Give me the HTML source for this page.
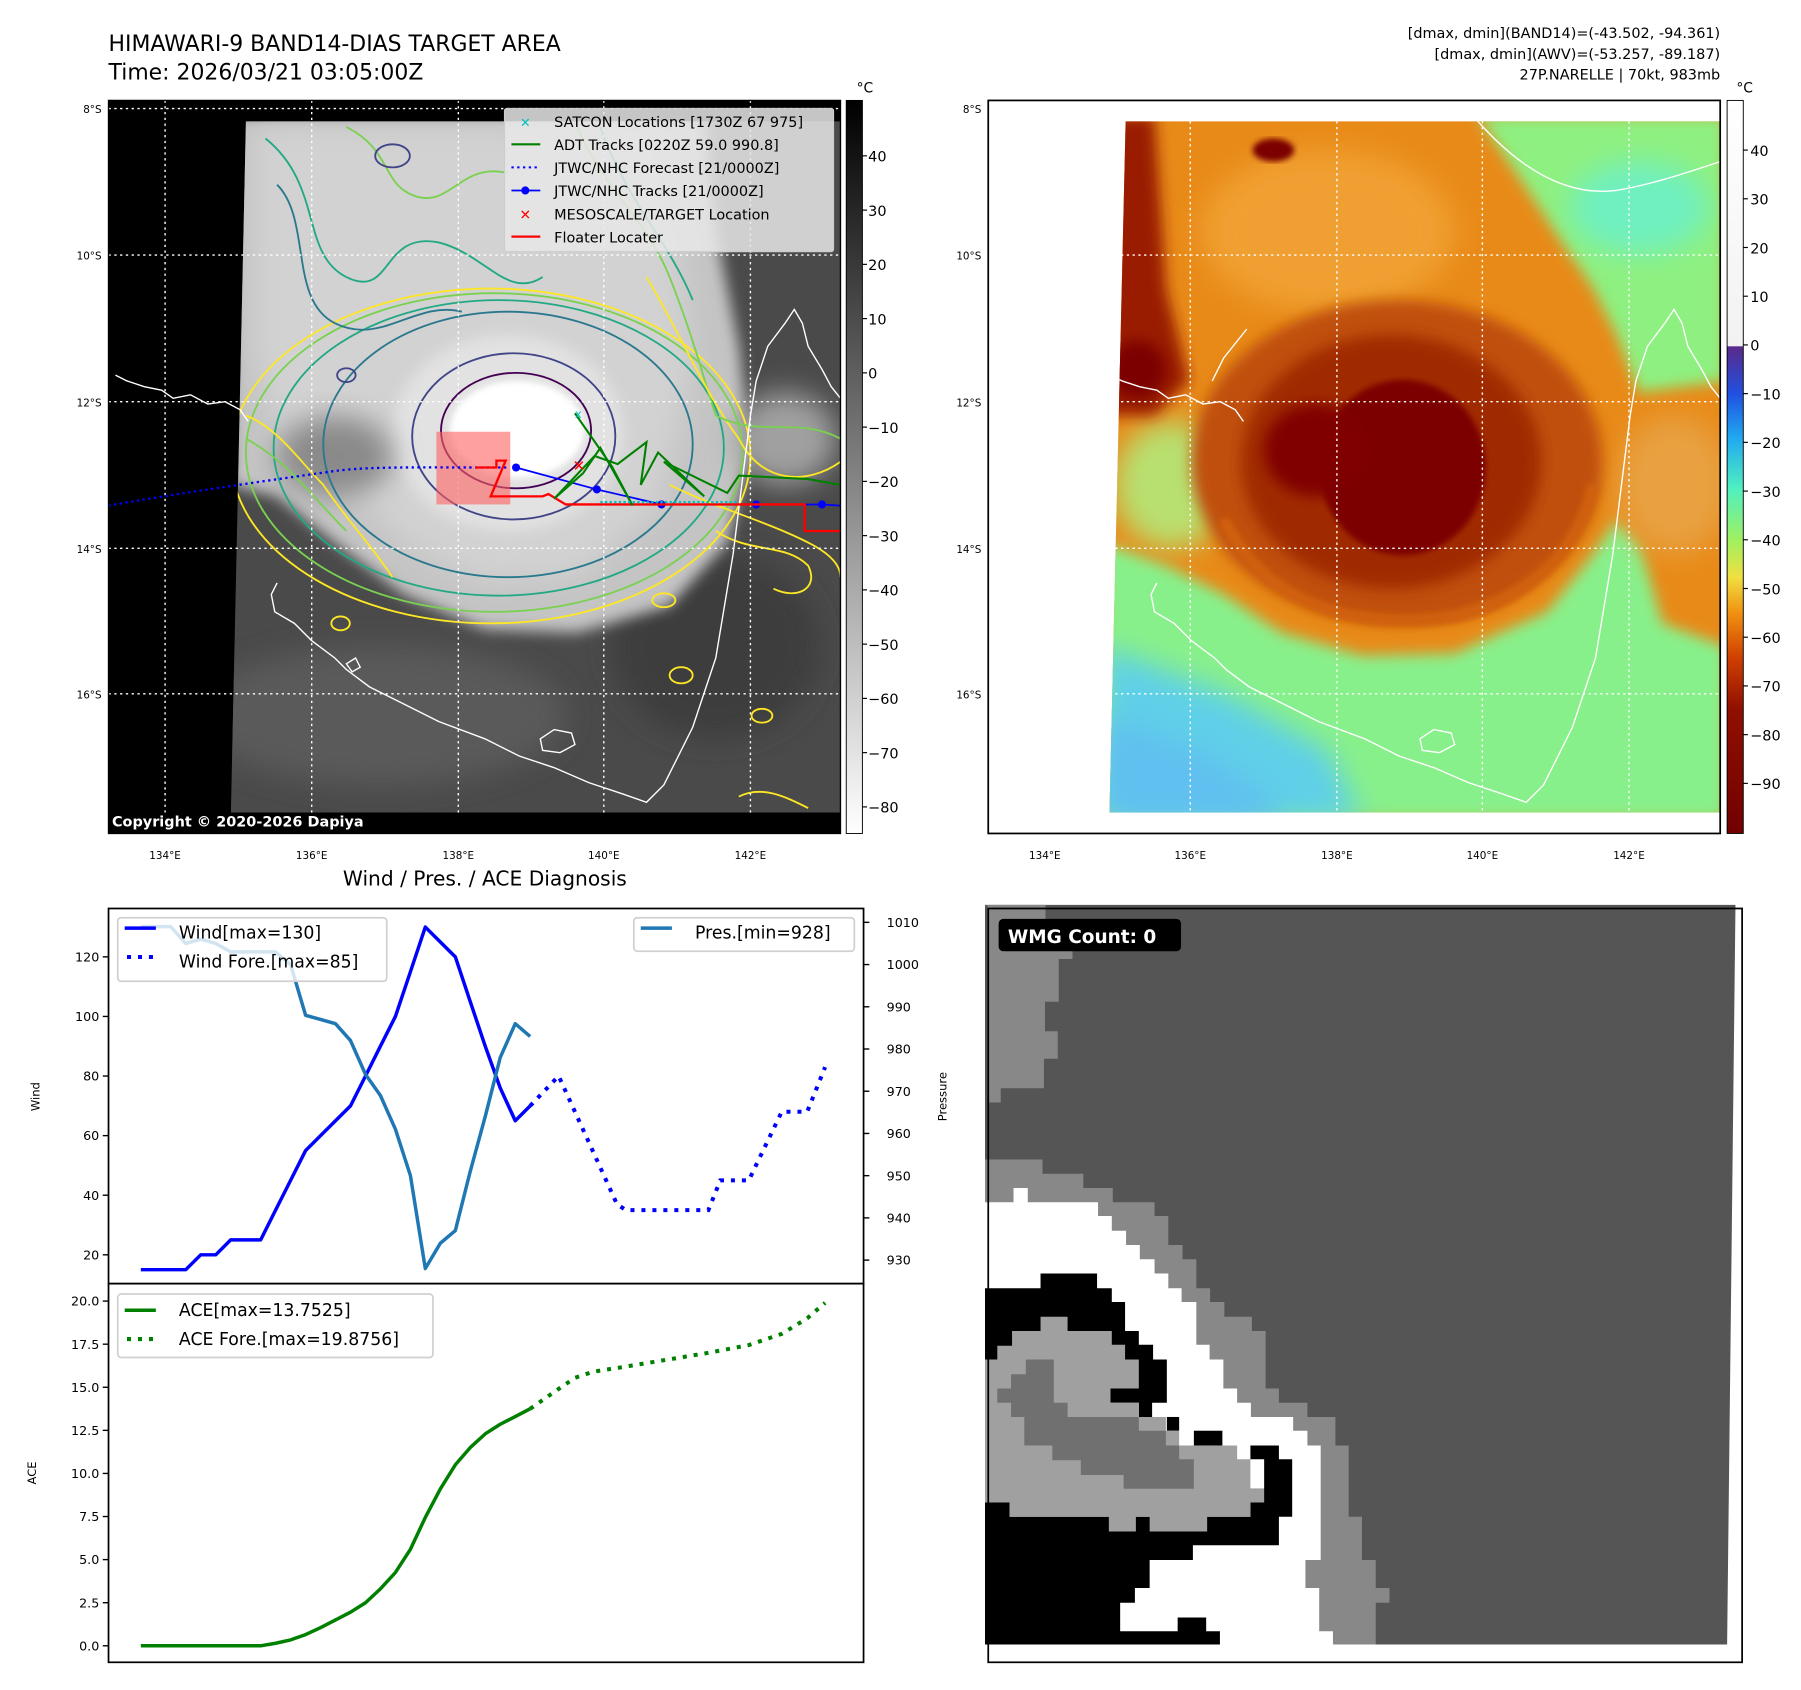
<!DOCTYPE html>
<html><head><meta charset="utf-8"><style>
html,body{margin:0;padding:0;background:#fff;}
svg{display:block;font-family:"DejaVu Sans","Liberation Sans",sans-serif;}
</style></head><body>
<svg id="root" width="1801" height="1690" viewBox="0 0 1560 1464" preserveAspectRatio="none" xmlns="http://www.w3.org/2000/svg">
<defs>
<filter id="blur6" x="-20%" y="-20%" width="140%" height="140%"><feGaussianBlur stdDeviation="6"/></filter>
<filter id="blur12" x="-30%" y="-30%" width="160%" height="160%"><feGaussianBlur stdDeviation="12"/></filter>
<filter id="blur3"><feGaussianBlur stdDeviation="2.5"/></filter>
<clipPath id="clipSat1"><polygon points="213,105 728,105 728,704 200,704"/></clipPath>
<clipPath id="clipAx1"><rect x="94" y="87" width="634" height="635"/></clipPath>
<clipPath id="clipSat2"><polygon points="975,105 1490,105 1490,704 961,704"/></clipPath>
<clipPath id="clipWind"><rect x="94" y="787" width="654" height="325"/></clipPath>
<linearGradient id="cb1" x1="0" y1="0" x2="0" y2="1"><stop offset="0" stop-color="#000"/><stop offset="1" stop-color="#fff"/></linearGradient>
<linearGradient id="cb2" x1="0" y1="87" x2="0" y2="722" gradientUnits="userSpaceOnUse">
<stop offset="0" stop-color="#ffffff"/>
<stop offset="0.335" stop-color="#f2f2f2"/>
<stop offset="0.336" stop-color="#5a2a8a"/>
<stop offset="0.40" stop-color="#2050e0"/>
<stop offset="0.46" stop-color="#20a8f0"/>
<stop offset="0.53" stop-color="#50f0c0"/>
<stop offset="0.60" stop-color="#a0f060"/>
<stop offset="0.65" stop-color="#f0e040"/>
<stop offset="0.70" stop-color="#f09010"/>
<stop offset="0.76" stop-color="#d04000"/>
<stop offset="0.83" stop-color="#901000"/>
<stop offset="1" stop-color="#700000"/>
</linearGradient>
</defs>

<text x="94" y="44" font-size="19">HIMAWARI-9 BAND14-DIAS TARGET AREA</text>
<text x="94" y="69" font-size="19">Time: 2026/03/21 03:05:00Z</text>
<g font-size="12.5" text-anchor="end">
<text x="1490" y="33">[dmax, dmin](BAND14)=(-43.502, -94.361)</text>
<text x="1490" y="51">[dmax, dmin](AWV)=(-53.257, -89.187)</text>
<text x="1490" y="69">27P.NARELLE | 70kt, 983mb</text>
</g>

<g>
<rect x="94" y="87" width="634" height="635" fill="#000"/>
<g clip-path="url(#clipSat1)">
<rect x="190" y="100" width="540" height="610" fill="#4a4a4a"/>
<ellipse cx="330" cy="620" rx="160" ry="60" fill="#5a5a5a" filter="url(#blur12)"/>
<ellipse cx="620" cy="560" rx="90" ry="80" fill="#3c3c3c" filter="url(#blur12)"/>
<path d="M200,100 L610,100 L620,200 L640,300 L650,390 L630,470 L580,525 L500,548 L420,545 L350,515 L290,470 L240,430 L200,420 Z" fill="#c4c4c4" filter="url(#blur6)"/>
<path d="M220,110 L560,110 L590,220 L600,320 L570,440 L500,500 L420,505 L350,470 L300,420 L240,380 L220,300 Z" fill="#d2d2d2" filter="url(#blur12)"/>
<ellipse cx="440" cy="375" rx="100" ry="85" fill="#e2e2e2" filter="url(#blur6)"/>
<ellipse cx="448" cy="372" rx="58" ry="42" fill="#fff" filter="url(#blur3)"/>
<ellipse cx="290" cy="395" rx="50" ry="35" fill="#8a8a8a" filter="url(#blur12)"/>
<ellipse cx="680" cy="380" rx="45" ry="40" fill="#a0a0a0" filter="url(#blur12)"/>
<g fill="none" stroke-width="1.6">
<ellipse cx="425" cy="395" rx="225" ry="145" stroke="#fde725"/>
<ellipse cx="428" cy="392" rx="215" ry="138" stroke="#7ad151"/>
<ellipse cx="432" cy="388" rx="195" ry="128" stroke="#22a884"/>
<ellipse cx="440" cy="385" rx="160" ry="115" stroke="#2a788e"/>
<ellipse cx="445" cy="378" rx="88" ry="72" stroke="#414487"/>
<ellipse cx="447" cy="373" rx="65" ry="50" stroke="#440154"/>
<path d="M230,120 C280,160 260,220 300,240 C340,260 330,200 380,210 C420,220 440,260 470,240" stroke="#22a884"/>
<path d="M240,160 C270,190 250,260 290,280 C330,300 360,260 400,270" stroke="#2a788e"/>
<path d="M300,110 C340,130 330,160 360,170 C390,180 400,140 440,150" stroke="#7ad151"/>
<path d="M500,110 C520,160 560,190 580,240 C600,290 610,330 620,360" stroke="#7ad151"/>
<path d="M520,110 C540,170 580,210 600,260" stroke="#22a884"/>
<path d="M560,240 C590,290 610,340 640,380 C660,420 700,420 728,400" stroke="#fde725"/>
<path d="M620,360 C660,380 690,360 728,380" stroke="#7ad151"/>
<path d="M213,360 C240,370 260,400 280,420 C300,450 320,470 340,500" stroke="#fde725"/>
<path d="M213,380 C250,400 270,430 300,460" stroke="#7ad151"/>
<path d="M580,420 C620,440 660,450 700,470 C720,480 728,490 728,500" stroke="#fde725"/>
<path d="M620,460 C650,480 680,470 700,490 C710,510 690,520 670,510" stroke="#fde725"/>
<path d="M640,690 C660,680 680,690 700,700" stroke="#fde725"/>
<ellipse cx="340" cy="135" rx="15" ry="10" stroke="#414487"/>
<ellipse cx="300" cy="325" rx="8" ry="6" stroke="#414487"/>
<ellipse cx="575" cy="520" rx="10" ry="6" stroke="#fde725"/>
<ellipse cx="590" cy="585" rx="10" ry="7" stroke="#fde725"/>
<ellipse cx="295" cy="540" rx="8" ry="6" stroke="#fde725"/>
<ellipse cx="660" cy="620" rx="9" ry="6" stroke="#fde725"/>
</g>
</g>
<g clip-path="url(#clipAx1)" fill="none" stroke="#fff" stroke-width="1.2">
<path d="M100,325 L110,330 L125,335 L140,338 L150,345 L165,342 L180,350 L195,348 L208,355 L215,365"/>
<path d="M240,505 L235,515 L238,530 L255,540 L270,555 L290,570 L300,580 L320,595 L350,610 L380,625 L420,640 L450,655 L480,665 L510,678 L540,688 L560,695 L575,680 L585,660 L600,630 L610,600 L620,570 L625,540 L630,510 L635,480 L640,440 L645,400 L650,360 L655,330 L665,300 L680,280 L688,268 L695,280 L700,300 L712,320 L720,335 L728,345"/>
<path d="M468,640 L480,632 L495,635 L498,645 L485,652 L470,650 Z"/>
<path d="M300,575 L305,582 L312,578 L308,570 Z"/>
</g>
<g stroke="#fff" stroke-width="1.2" stroke-dasharray="2 3">
<line x1="94" y1="94" x2="728" y2="94"/><line x1="94" y1="221" x2="728" y2="221"/><line x1="94" y1="348" x2="728" y2="348"/><line x1="94" y1="475" x2="728" y2="475"/><line x1="94" y1="601" x2="728" y2="601"/>
<line x1="143" y1="87" x2="143" y2="722"/><line x1="270" y1="87" x2="270" y2="722"/><line x1="397" y1="87" x2="397" y2="722"/><line x1="523" y1="87" x2="523" y2="722"/><line x1="650" y1="87" x2="650" y2="722"/>
</g>
<g clip-path="url(#clipAx1)">
<rect x="378" y="374" width="64" height="63" fill="#ff6060" opacity="0.6"/>
<path d="M94,438 C150,428 220,418 290,408 C320,404 360,405 440,405" fill="none" stroke="#0000ff" stroke-width="2" stroke-dasharray="2 3"/>
<polyline points="447,405 517,424 573,437 650,437 712,437 728,438" fill="none" stroke="#0000ff" stroke-width="1.5"/>
<g fill="#0000ff"><circle cx="447" cy="405" r="3.5"/><circle cx="517" cy="424" r="3.5"/><circle cx="573" cy="437" r="3.5"/><circle cx="655" cy="437" r="3.5"/><circle cx="712" cy="437" r="3.5"/></g>
<polyline points="412,405 430,405 430,399 438,399 425,430 470,430 475,428 490,437 697,437 697,460 728,460" fill="none" stroke="#ff0000" stroke-width="2"/>
<polyline points="498,358 530,404 548,438 520,388 505,410 480,432 515,395 535,402 560,383 555,420 570,392 610,430 575,400 630,427 640,412 700,415 728,420" fill="none" stroke="#008000" stroke-width="1.8"/>
<polyline points="520,435 640,435" fill="none" stroke="#00c0c0" stroke-width="2" stroke-dasharray="2 2"/>
<text x="498" y="362" fill="#00c0c0" font-size="10">x</text>
<text x="496" y="408" fill="#ff0000" font-size="13" font-weight="bold">✕</text>
</g>
<rect x="94" y="704" width="634" height="18" fill="#000"/>
<text x="97" y="716" fill="#fff" font-size="12.5" font-weight="bold">Copyright © 2020-2026 Dapiya</text>
<g>
<rect x="437" y="94" width="285" height="124" fill="#e8e8e8" fill-opacity="0.85" stroke="#ccc" rx="2"/>
<g font-size="12.5" fill="#000">
<text x="455" y="110" fill="#00c0c0" font-size="11" text-anchor="middle" font-weight="bold">✕</text><text x="480" y="110">SATCON Locations [1730Z 67 975]</text>
<line x1="443" y1="125" x2="468" y2="125" stroke="#008000" stroke-width="1.8"/><text x="480" y="130">ADT Tracks [0220Z 59.0 990.8]</text>
<line x1="443" y1="145" x2="468" y2="145" stroke="#0000ff" stroke-width="1.8" stroke-dasharray="2 3"/><text x="480" y="150">JTWC/NHC Forecast [21/0000Z]</text>
<line x1="443" y1="165" x2="468" y2="165" stroke="#0000ff" stroke-width="1.5"/><circle cx="455" cy="165" r="3.5" fill="#0000ff"/><text x="480" y="170">JTWC/NHC Tracks [21/0000Z]</text>
<text x="455" y="190" fill="#ff0000" font-size="12" text-anchor="middle" font-weight="bold">✕</text><text x="480" y="190">MESOSCALE/TARGET Location</text>
<line x1="443" y1="205" x2="468" y2="205" stroke="#ff0000" stroke-width="2"/><text x="480" y="210">Floater Locater</text>
</g></g>
<rect x="94" y="87" width="634" height="635" fill="none" stroke="#000" stroke-width="1.2"/>
</g>
<g font-size="9" text-anchor="end">
<text x="88" y="98">8°S</text><text x="88" y="225">10°S</text><text x="88" y="352">12°S</text><text x="88" y="479">14°S</text><text x="88" y="605">16°S</text>
</g>
<g font-size="9" text-anchor="middle">
<text x="143" y="744">134°E</text><text x="270" y="744">136°E</text><text x="397" y="744">138°E</text><text x="523" y="744">140°E</text><text x="650" y="744">142°E</text>
</g>
<g>
<rect x="733" y="87" width="14" height="635" fill="url(#cb1)" stroke="#000" stroke-width="0.8"/>
<text x="742" y="80" font-size="12">°C</text>
<g font-size="12.5" id="cb1ticks"></g>
</g>

<g>
<g clip-path="url(#clipSat2)">
<rect x="955" y="100" width="540" height="610" fill="#e88a18"/>
<path d="M1280,100 L1495,100 L1495,330 L1420,340 L1400,290 L1380,250 L1340,190 Z" fill="#8ef080" filter="url(#blur6)"/>
<path d="M955,470 L1010,490 L1060,515 L1110,548 L1180,568 L1260,566 L1340,530 L1380,480 L1400,450 L1420,470 L1440,540 L1495,560 L1495,710 L955,710 Z" fill="#88f08a" filter="url(#blur6)"/>
<path d="M955,560 L1060,600 L1150,650 L1180,710 L955,710 Z" fill="#5ed0e8" filter="url(#blur12)"/>
<path d="M955,620 L1040,650 L1100,690 L1110,710 L955,710 Z" fill="#60c0f0" filter="url(#blur12)"/>
<ellipse cx="1420" cy="180" rx="60" ry="40" fill="#70f0c0" filter="url(#blur12)"/>
<ellipse cx="1015" cy="420" rx="50" ry="55" fill="#b8e070" filter="url(#blur12)"/>
<ellipse cx="1450" cy="420" rx="50" ry="60" fill="#e8a040" filter="url(#blur12)"/>
<ellipse cx="1150" cy="200" rx="110" ry="70" fill="#f0a030" filter="url(#blur12)"/>
<ellipse cx="1210" cy="400" rx="178" ry="140" fill="#c05008" filter="url(#blur6)"/>
<path d="M1060,450 C1100,530 1180,545 1260,535 C1330,520 1370,470 1380,420" fill="none" stroke="#d06010" stroke-width="10" filter="url(#blur3)"/>
<ellipse cx="1205" cy="400" rx="130" ry="110" fill="#a02a00" filter="url(#blur6)"/>
<ellipse cx="1215" cy="405" rx="72" ry="76" fill="#7c0000" filter="url(#blur3)"/>
<ellipse cx="1140" cy="390" rx="45" ry="40" fill="#800000" filter="url(#blur6)"/>
<path d="M955,100 L1000,100 L1010,250 L1030,330 L1000,360 L955,360 Z" fill="#9a1a00" filter="url(#blur6)"/>
<ellipse cx="985" cy="320" rx="25" ry="25" fill="#7c0000" filter="url(#blur6)"/>
<ellipse cx="1103" cy="130" rx="18" ry="10" fill="#7c0000" filter="url(#blur3)"/>
</g>
<g clip-path="url(#clipSat2)" fill="none" stroke="#fff" stroke-width="1.2">
<path d="M962,325 L972,330 L987,335 L1002,338 L1012,345 L1027,342 L1042,350 L1057,348 L1070,355 L1077,365"/>
<path d="M1080,285 L1060,310 L1050,330"/>
<path d="M1002,505 L997,515 L1000,530 L1017,540 L1032,555 L1052,570 L1062,580 L1082,595 L1112,610 L1142,625 L1182,640 L1212,655 L1242,665 L1272,678 L1302,688 L1322,695 L1337,680 L1347,660 L1362,630 L1372,600 L1382,570 L1387,540 L1392,510 L1397,480 L1402,440 L1407,400 L1412,360 L1417,330 L1427,300 L1442,280 L1450,268 L1457,280 L1462,300 L1474,320 L1482,335 L1490,345"/>
<path d="M1230,640 L1242,632 L1257,635 L1260,645 L1247,652 L1232,650 Z"/>
<path d="M1280,105 C1320,150 1360,170 1400,165 C1430,160 1460,150 1490,140"/>
</g>
<g stroke="#fff" stroke-width="1.2" stroke-dasharray="2 3">
<line x1="961" y1="221" x2="1490" y2="221"/><line x1="961" y1="348" x2="1490" y2="348"/><line x1="961" y1="475" x2="1490" y2="475"/><line x1="961" y1="601" x2="1490" y2="601"/>
<line x1="1031" y1="105" x2="1031" y2="704"/><line x1="1158" y1="105" x2="1158" y2="704"/><line x1="1284" y1="105" x2="1284" y2="704"/><line x1="1411" y1="105" x2="1411" y2="704"/>
</g>
<rect x="856" y="87" width="634" height="635" fill="none" stroke="#000" stroke-width="1.5"/>
</g>
<g font-size="9" text-anchor="end">
<text x="850" y="98">8°S</text><text x="850" y="225">10°S</text><text x="850" y="352">12°S</text><text x="850" y="479">14°S</text><text x="850" y="605">16°S</text>
</g>
<g font-size="9" text-anchor="middle">
<text x="905" y="744">134°E</text><text x="1031" y="744">136°E</text><text x="1158" y="744">138°E</text><text x="1284" y="744">140°E</text><text x="1411" y="744">142°E</text>
</g>
<g>
<rect x="1496" y="87" width="14" height="635" fill="url(#cb2)" stroke="#000" stroke-width="0.8"/>
<text x="1504" y="80" font-size="12">°C</text>
<g font-size="12.5" id="cb2ticks"></g>
</g>

<text x="420" y="767" font-size="17.5" text-anchor="middle">Wind / Pres. / ACE Diagnosis</text>
<g id="windAx"></g>
<g id="aceAx"></g>

<g>
<g transform="translate(853.2,783.9) scale(0.4257)">
<polygon points="0,0 1527,0 1510,1505 0,1505" fill="#555"/>
<polygon points="5,0 123,0 123,90 178,90 178,110 150,110 150,197 122,197 122,257 148,257 148,313 120,313 120,373 32,373 32,402 5,402" fill="#888"/>
<polygon points="0,518 117,518 117,547 200,547 200,576 260,576 260,605 345,605 345,633 373,633 373,692 402,692 402,721 430,721 430,780 458,780 458,808 487,808 487,838 543,838 543,867 571,867 571,984 598,984 598,1013 656,1013 656,1042 713,1042 713,1100 740,1100 740,1245 767,1245 767,1333 795,1333 795,1390 823,1390 823,1420 795,1420 795,1505 0,1505" fill="#888"/>
<polygon points="0,605 58,605 58,576 87,576 87,605 230,605 230,633 258,633 258,663 287,663 287,692 315,692 315,721 345,721 345,750 373,750 373,780 400,780 400,808 430,808 430,895 457,895 457,925 485,925 485,984 513,984 513,1013 541,1013 541,1042 627,1042 627,1070 656,1070 656,1100 683,1100 683,1333 652,1333 652,1390 680,1390 680,1478 708,1478 708,1505 0,1505" fill="#fff"/>
<polygon points="0,780 113,780 113,750 228,750 228,780 258,780 258,808 285,808 285,867 313,867 313,895 342,895 342,925 370,925 370,1013 340,1013 340,1042 313,1042 313,1013 255,1013 255,984 0,984" fill="#000"/>
<polygon points="0,1216 50,1216 50,1245 540,1245 540,1188 568,1188 568,1128 540,1128 540,1100 598,1100 598,1128 625,1128 625,1245 598,1245 598,1303 423,1303 423,1333 335,1333 335,1390 305,1390 305,1420 275,1420 275,1478 392,1478 392,1450 450,1450 450,1478 478,1478 478,1505 0,1505" fill="#000"/>
<rect x="370" y="1042" width="25" height="28" fill="#000"/>
<rect x="425" y="1070" width="58" height="30" fill="#000"/>
<polygon points="0,925 25,925 25,897 55,897 55,867 113,867 113,838 168,838 168,867 258,867 258,895 285,895 285,925 313,925 313,984 255,984 255,1013 313,1013 313,1042 368,1042 368,1070 395,1070 395,1100 513,1100 513,1128 540,1128 540,1188 568,1188 568,1216 540,1216 540,1245 452,1245 452,1275 335,1275 335,1245 307,1245 307,1275 252,1275 252,1245 50,1245 50,1216 0,1216" fill="#a0a0a0"/>
<polygon points="83,925 140,925 140,1013 168,1013 168,1042 313,1042 313,1070 368,1070 368,1100 395,1100 395,1128 425,1128 425,1188 282,1188 282,1160 195,1160 195,1130 137,1130 137,1100 80,1100 80,1042 53,1042 53,1013 25,1013 25,984 53,984 53,955 83,955" fill="#707070"/>
</g>
<rect x="856" y="787" width="653" height="653" fill="none" stroke="#000" stroke-width="1.5"/>
<rect x="865" y="796" width="158" height="28" rx="4" fill="#000"/>
<text x="873" y="817" fill="#fff" font-size="16" font-weight="bold">WMG Count: 0</text>
</g>
</svg>

<script>
// ---- chart data ----
const windHistX = [0,1,2,3,4,5,6,7,8,9,10,11,12,13,14,15,16,17,18,19,20,21,22,23,24,25,26];
const windHist = [15,15,15,15,20,20,25,25,25,35,45,55,60,65,70,80,90,100,115,130,125,120,105,90,76,65,70];
const windForeX = [26,27.9,31.8,32.4,37.9,38.7,40.6,42.8,44.5,45.7];
const windFore = [70,80,37,35,35,45,45,68,68,83];
const presHist = [1009,1009,1009,1005,1006,1005,1003,1003,1003,1003,1000,988,987,986,982,974,969,961,950,928,934,937,951,964,978,986,983];
const aceHist = [0,0,0,0,0,0,0,0,0,0.15,0.34,0.65,1.05,1.5,1.95,2.5,3.3,4.25,5.6,7.45,9.1,10.5,11.5,12.3,12.85,13.3,13.75];
const aceForeX = [26,27.9,29.0,30.2,32.4,37.9,40.6,42.8,44.5,45.7];
const aceFore = [13.75,14.9,15.55,15.9,16.2,17.0,17.45,18.1,19.0,19.9];
const windTicks = [20,40,60,80,100,120];
const presTicks = [930,940,950,960,970,980,990,1000,1010];
const aceTicks = [0,2.5,5,7.5,10,12.5,15,17.5,20];
const cb1Ticks = [40,30,20,10,0,-10,-20,-30,-40,-50,-60,-70,-80];
const cb2Ticks = [40,30,20,10,0,-10,-20,-30,-40,-50,-60,-70,-80,-90];

const NS = "http://www.w3.org/2000/svg";
const xS = i => 122 + i * 12.97;
const yW = v => 1087 - (v - 20) * 2.581;
const yP = p => 1091.6 - (p - 930) * 3.6575;
const yA = a => 1425.7 - a * 14.93;
function mk(parent, tag, attrs, txt) {
  const e = document.createElementNS(NS, tag);
  for (const k in attrs) e.setAttribute(k, attrs[k]);
  if (txt !== undefined) e.textContent = txt;
  parent.appendChild(e);
  return e;
}
function pts(xs, ys, fy) { return xs.map((x, i) => xS(x).toFixed(1) + "," + fy(ys[i]).toFixed(1)).join(" "); }

const wAx = document.getElementById("windAx");
const aAx = document.getElementById("aceAx");
let e;
e = mk(wAx, "rect", {x:94, y:787, width:654, height:325, fill:"#fff", stroke:"#000", "stroke-width":1.5});


windTicks.forEach(t => {
  mk(wAx, "line", {x1:89, x2:94, y1:yW(t), y2:yW(t), stroke:"#000", "stroke-width":1.2});
  e = mk(wAx, "text", {x:86, y:yW(t) + 4, "font-size":11, "text-anchor":"end"}, String(t));
  
  
});
presTicks.forEach(t => {
  mk(wAx, "line", {x1:748, x2:753, y1:yP(t), y2:yP(t), stroke:"#000", "stroke-width":1.2});
  e = mk(wAx, "text", {x:768, y:yP(t) + 4, "font-size":11}, String(t));
  
  
});
e = mk(wAx, "text", {x:0, y:0, "font-size":10, "text-anchor":"middle", transform:"translate(34,950) rotate(-90)"}, "Wind");


e = mk(wAx, "text", {x:0, y:0, "font-size":10, "text-anchor":"middle", transform:"translate(820,950) rotate(-90)"}, "Pressure");


const gW = mk(wAx, "g", {"clip-path":"url(#clipWind)"});
e = mk(gW, "polyline", {points:pts(windHistX, windHist, yW), fill:"none", stroke:"#0000ff", "stroke-width":3, "stroke-linejoin":"round"});


e = mk(gW, "polyline", {points:pts(windForeX, windFore, yW), fill:"none", stroke:"#0000ff", "stroke-width":3.5, "stroke-dasharray":"3.5 6"});


e = mk(gW, "polyline", {points:pts(windHistX, presHist, yP), fill:"none", stroke:"#1f77b4", "stroke-width":3, "stroke-linejoin":"round"});


e = mk(wAx, "g", {});


mk(e, "rect", {x:102, y:795, width:233, height:55, rx:3, fill:"#fff", "fill-opacity":0.8, stroke:"#d0d0d0", "stroke-width":1.5});
mk(e, "line", {x1:108, x2:135, y1:804, y2:804, stroke:"#0000ff", "stroke-width":3});
mk(e, "line", {x1:110, x2:135, y1:829, y2:829, stroke:"#0000ff", "stroke-width":3.5, "stroke-dasharray":"3.5 6"});
mk(e, "text", {x:155, y:813, "font-size":15}, "Wind[max=130]");
mk(e, "text", {x:155, y:838, "font-size":15}, "Wind Fore.[max=85]");
e = mk(wAx, "g", {});


mk(e, "rect", {x:549, y:795, width:191, height:29, rx:3, fill:"#fff", "fill-opacity":0.8, stroke:"#d0d0d0", "stroke-width":1.5});
mk(e, "line", {x1:555, x2:582, y1:804, y2:804, stroke:"#1f77b4", "stroke-width":3});
mk(e, "text", {x:602, y:813, "font-size":15}, "Pres.[min=928]");
e = mk(aAx, "rect", {x:94, y:1112, width:654, height:328, fill:"#fff", stroke:"#000", "stroke-width":1.5});


aceTicks.forEach(t => {
  mk(aAx, "line", {x1:89, x2:94, y1:yA(t), y2:yA(t), stroke:"#000", "stroke-width":1.2});
  e = mk(aAx, "text", {x:86, y:yA(t) + 4, "font-size":11, "text-anchor":"end"}, t.toFixed(1));
  
  
});
e = mk(aAx, "text", {x:0, y:0, "font-size":10, "text-anchor":"middle", transform:"translate(31,1276) rotate(-90)"}, "ACE");


e = mk(aAx, "polyline", {points:pts(windHistX, aceHist, yA), fill:"none", stroke:"#008000", "stroke-width":3, "stroke-linejoin":"round"});


e = mk(aAx, "polyline", {points:pts(aceForeX, aceFore, yA), fill:"none", stroke:"#008000", "stroke-width":3.5, "stroke-dasharray":"3.5 6"});


e = mk(aAx, "g", {});


mk(e, "rect", {x:102, y:1121, width:273, height:55, rx:3, fill:"#fff", "fill-opacity":0.8, stroke:"#d0d0d0", "stroke-width":1.5});
mk(e, "line", {x1:108, x2:135, y1:1135, y2:1135, stroke:"#008000", "stroke-width":3});
mk(e, "line", {x1:110, x2:135, y1:1160, y2:1160, stroke:"#008000", "stroke-width":3.5, "stroke-dasharray":"3.5 6"});
mk(e, "text", {x:155, y:1140, "font-size":15}, "ACE[max=13.7525]");
mk(e, "text", {x:155, y:1165, "font-size":15}, "ACE Fore.[max=19.8756]");

const c1 = document.getElementById("cb1ticks");
cb1Ticks.forEach(v => {
  const y = 135 + (40 - v) * 4.7;
  mk(c1, "line", {x1:747, x2:751, y1:y, y2:y, stroke:"#000"});
  e = mk(c1, "text", {x:752, y:y + 5}, v < 0 ? "\u2212" + Math.abs(v) : String(v));
  
  
});
const c2 = document.getElementById("cb2ticks");
cb2Ticks.forEach(v => {
  const y = 130 + (40 - v) * 4.22;
  mk(c2, "line", {x1:1510, x2:1514, y1:y, y2:y, stroke:"#000"});
  e = mk(c2, "text", {x:1516, y:y + 5}, v < 0 ? "\u2212" + Math.abs(v) : String(v));
  
  
});
</script>
</body></html>
